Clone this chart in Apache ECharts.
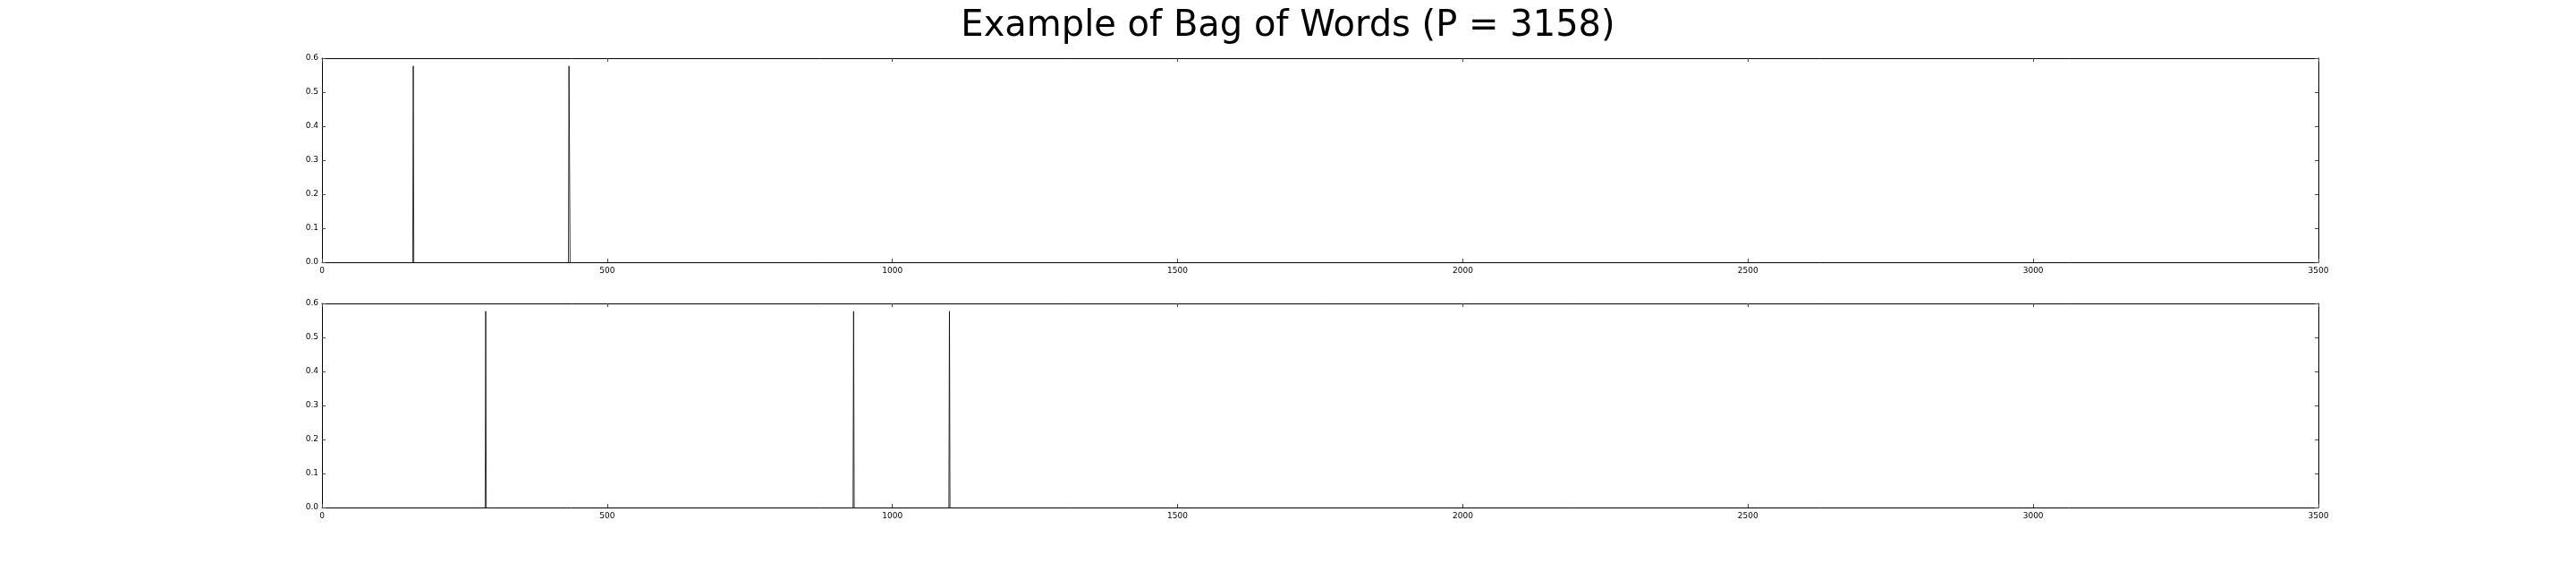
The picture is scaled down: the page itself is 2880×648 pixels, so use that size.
<!DOCTYPE html>
<html>
<head>
<meta charset="utf-8">
<script src="https://cdn.jsdelivr.net/npm/echarts@6/dist/echarts.min.js"></script>
<style>
html,body{margin:0;padding:0;background:#fff;}
#chart{width:2880px;height:648px;}
</style>
</head>
<body>
<div id="chart"></div>
<script>
// ---- data ----
const titleText = 'Example of Bag of Words (P = 3158)';
const vocabSize = 3158;
const topIndices = [160, 433, 434];
const topValues = [0.577, 0.577, 0.577];
const bottomIndices = [287, 932, 1100];
const bottomValues = [0.577, 0.577, 0.577];
const xTicks = [0, 500, 1000, 1500, 2000, 2500, 3000, 3500];
const yTicks = [0.0, 0.1, 0.2, 0.3, 0.4, 0.5, 0.6];

// spikes of the sparse vector: each nonzero entry rises from its zero neighbours
function buildSeries(idx, vals) {
  const map = new Map();
  idx.forEach((i, k) => map.set(i, vals[k]));
  const pts = new Set();
  idx.forEach(i => { pts.add(i - 1); pts.add(i); pts.add(i + 1); });
  const sorted = Array.from(pts).sort((a, b) => a - b);
  const out = [];
  sorted.forEach((i, k) => {
    if (k > 0 && i - sorted[k - 1] > 1) out.push([null, null]);
    out.push([i, map.has(i) ? map.get(i) : 0]);
  });
  return out;
}

const FONT = 'DejaVu Sans';
const labelStyle = { fontFamily: FONT, fontSize: 9, color: '#000' };

function xAxes(gridIndex) {
  const base = {
    type: 'value', gridIndex: gridIndex, min: xTicks[0], max: xTicks[xTicks.length - 1], interval: 500,
    splitLine: { show: false },
    axisLine: { show: true, onZero: false, lineStyle: { color: '#000', width: 1 } },
    axisTick: { show: true, inside: true, length: 4, lineStyle: { color: '#444', width: 1 } }
  };
  return [
    Object.assign({}, base, { position: 'bottom', axisLabel: Object.assign({ margin: 5, formatter: v => String(v) }, labelStyle) }),
    Object.assign({}, base, { position: 'top', axisLabel: { show: false } })
  ];
}
function yAxes(gridIndex) {
  const base = {
    type: 'value', gridIndex: gridIndex, min: yTicks[0], max: yTicks[yTicks.length - 1], interval: 0.1,
    splitLine: { show: false },
    axisLine: { show: true, onZero: false, lineStyle: { color: '#000', width: 1 } },
    axisTick: { show: true, inside: true, length: 4, lineStyle: { color: '#444', width: 1 } }
  };
  return [
    Object.assign({}, base, { position: 'left', axisLabel: Object.assign({ margin: 4, formatter: v => v.toFixed(1) }, labelStyle) }),
    Object.assign({}, base, { position: 'right', axisLabel: { show: false } })
  ];
}

const chart = echarts.init(document.getElementById('chart'), null, { renderer: 'canvas' });
chart.setOption({
  animation: false,
  backgroundColor: '#fff',
  title: {
    text: titleText, left: 'center', top: 5,
    textStyle: { fontFamily: FONT, fontSize: 40, fontWeight: 'normal', color: '#000' }
  },
  grid: [
    { left: 360, right: 288, top: 65, height: 228 },
    { left: 360, right: 288, top: 339, height: 228 }
  ],
  xAxis: [...xAxes(0), ...xAxes(1)],
  yAxis: [...yAxes(0), ...yAxes(1)],
  series: [
    { type: 'line', xAxisIndex: 0, yAxisIndex: 0, data: buildSeries(topIndices, topValues), connectNulls: false,
      showSymbol: false, lineStyle: { color: '#000', width: 0.8 }, silent: true },
    { type: 'line', xAxisIndex: 2, yAxisIndex: 2, data: buildSeries(bottomIndices, bottomValues), connectNulls: false,
      showSymbol: false, lineStyle: { color: '#000', width: 0.8 }, silent: true }
  ]
});
</script>
</body>
</html>
